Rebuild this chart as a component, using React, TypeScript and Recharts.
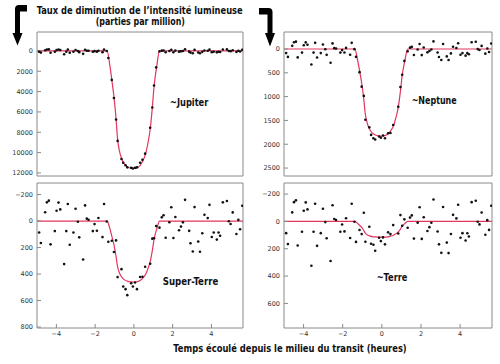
import { ComposedChart, Line, Scatter, XAxis, YAxis } from "recharts";

const timesBefore = [
  -4.89, -4.8, -4.58, -4.49, -4.39, -4.3, -4.08, -3.99, -3.89, -3.8, -3.6,
  -3.49, -3.41, -3.31, -3.12, -3.01, -2.89, -2.82, -2.62, -2.52, -2.43, -2.34,
  -2.12, -2.03, -1.91, -1.83, -1.62, -1.54, -1.4,
];
const timesTransit = [
  -1.32, -1.14, -1.03, -0.92, -0.84, -0.64, -0.55, -0.43, -0.34, -0.14, -0.05,
  0.06, 0.16, 0.32, 0.44, 0.58, 0.84, 0.95, 1.04, 1.15, 1.32,
];
const timesAfter = [
  1.44, 1.53, 1.64, 1.83, 1.93, 2.04, 2.14, 2.33, 2.43, 2.53, 2.64, 2.85, 2.92,
  3.04, 3.13, 3.32, 3.41, 3.53, 3.64, 3.81, 3.9, 4.02, 4.12, 4.28, 4.37, 4.45,
  4.59, 4.8, 4.9, 4.99, 5.1, 5.29, 5.39, 5.48, 5.59,
];

// out-of-transit scatter (ppm), the same in all four panels
const noiseBefore = [
  86, 166, -66, -141, -154, 176, 76, -78, -139, -88, 325, 76, -129, 179, 86,
  -93, 5, 123, 290, -118, -18, -10, 76, 23, 73, -23, 121, -129, 3,
];
const noiseAfter = [
  -28, -44, 126, 9, -104, 128, -30, 70, 42, 10, -160, 74, 168, 230, -105, 155,
  232, 92, -48, -22, -122, 120, 86, 140, 87, 111, -141, -151, 2, 22, -65, 98,
  -9, 62, -115,
];

// in-transit measurements (ppm)
const jupiterTransit = [
  700, 2850, 4630, 6740, 8850, 10630, 11000, 11250, 11450, 11500, 11560, 11500,
  11450, 11000, 10700, 10100, 7550, 5570, 3400, 1620, 50,
];
const neptuneTransit = [
  165, 486, 791, 985, 1485, 1645, 1804, 1874, 1901, 1839, 1864, 1818, 1874,
  1770, 1763, 1596, 1215, 800, 540, 250, 49,
];
const superTerreTransit = [
  156, 149, 234, 146, 423, 363, 494, 514, 559, 469, 494, 464, 514, 422, 420,
  345, 322, 133, 130, 38, 50,
];
const terreTransit = [
  150, 63, 93, -63, 149, 39, 163, 171, 215, 120, 144, 117, 168, 80, 93, 27, 88,
  -46, 32, -15, 46,
];

// model light curves (red line)
const modelTimes = [
  -5, -1.38, -1.25, -1.14, -1.02, -0.92, -0.85, -0.75, -0.63, -0.5, -0.35,
  -0.15, 0, 0.15, 0.3, 0.45, 0.6, 0.7, 0.84, 0.95, 1.04, 1.18, 1.32, 5.63,
];
const jupiterModel = [
  0, 0, 1300, 2850, 4650, 6700, 8500, 9800, 10600, 11100, 11380, 11530, 11550,
  11500, 11300, 10850, 10150, 9300, 7700, 5600, 3500, 1500, 0, 0,
];
const neptuneModel = [
  0, 0, 210, 450, 740, 1060, 1350, 1550, 1680, 1760, 1800, 1825, 1830, 1820,
  1790, 1720, 1610, 1470, 1220, 890, 555, 240, 0, 0,
];
const superTerreModel = [
  0, 0, 52, 114, 185, 267, 339, 390, 422, 442, 453, 459, 460, 458, 450, 432,
  404, 370, 307, 223, 139, 60, 0, 0,
];
const terreModel = [
  0, 0, 13, 28, 46, 67, 85, 98, 106, 111, 113, 115, 115, 115, 113, 108, 101, 93,
  77, 56, 35, 15, 0, 0,
];

const xTicks = [-4, -2, 0, 2, 4];
const jupiterTicks = [0, 2000, 4000, 6000, 8000, 10000, 12000];
const neptuneTicks = [0, 500, 1000, 1500, 2000, 2500];
const superTerreTicks = [-200, 0, 200, 400, 600, 800];
const terreTicks = [-200, 0, 200, 400, 600];

const X_DOMAIN: [number, number] = [-5, 5.63];
const RED = "#e2365e";
const FRAME = "#8a8a8a";
const BOLD_FONT =
  "'Liberation Sans Narrow', 'DejaVu Sans Condensed', 'Liberation Sans', sans-serif";

const toPoints = (transit: number[]) => {
  const t = [...timesBefore, ...timesTransit, ...timesAfter];
  const y = [...noiseBefore, ...transit, ...noiseAfter];
  return t.map((v, i) => ({ t: v, y: y[i] }));
};
const toCurve = (vals: number[]) =>
  modelTimes.map((t, i) => ({ t, y: vals[i] }));

const fmt = (v: number) => (v < 0 ? `\u2212${Math.abs(v)}` : `${v}`);

const Dot = (props: any) => (
  <circle cx={props.cx} cy={props.cy} r={1.3} fill="#111" />
);

const tickStyle = {
  fontSize: 6.5,
  fill: "#333",
  fontFamily: "'DejaVu Sans', sans-serif",
};

type PanelProps = {
  left: number;
  top: number;
  width: number;
  height: number;
  yWidth: number;
  xHeight: number;
  xLabels: boolean;
  yDomain: [number, number];
  yTicks: number[];
  transit: number[];
  model: number[];
};

const Panel = ({
  left,
  top,
  width,
  height,
  yWidth,
  xHeight,
  xLabels,
  yDomain,
  yTicks,
  transit,
  model,
}: PanelProps) => (
  <div style={{ position: "absolute", left, top }}>
    <ComposedChart
      width={width}
      height={height}
      margin={{ top: 0, right: 0, bottom: 0, left: 0 }}
    >
      <XAxis
        xAxisId="b"
        dataKey="t"
        type="number"
        domain={X_DOMAIN}
        allowDataOverflow
        ticks={xTicks}
        interval={0}
        height={xHeight}
        tickSize={-4}
        tickMargin={7}
        tick={xLabels ? tickStyle : false}
        tickFormatter={fmt}
        stroke={FRAME}
      />
      <XAxis
        xAxisId="top"
        orientation="top"
        type="number"
        domain={X_DOMAIN}
        allowDataOverflow
        ticks={xTicks}
        interval={0}
        height={1}
        tickSize={-4}
        tick={false}
        stroke={FRAME}
      />
      <YAxis
        yAxisId="l"
        dataKey="y"
        type="number"
        reversed
        domain={yDomain}
        allowDataOverflow
        ticks={yTicks}
        interval={0}
        width={yWidth}
        tickSize={-4}
        tickMargin={8}
        tick={tickStyle}
        tickFormatter={fmt}
        stroke={FRAME}
      />
      <YAxis
        yAxisId="r"
        orientation="right"
        type="number"
        reversed
        domain={yDomain}
        allowDataOverflow
        ticks={yTicks}
        interval={0}
        width={1}
        tickSize={-4}
        tick={false}
        stroke={FRAME}
      />
      <Line
        xAxisId="b"
        yAxisId="l"
        data={toCurve(model)}
        dataKey="y"
        type="monotone"
        stroke={RED}
        strokeWidth={1.2}
        dot={false}
        isAnimationActive={false}
      />
      <Scatter
        xAxisId="b"
        yAxisId="l"
        data={toPoints(transit)}
        dataKey="y"
        shape={Dot}
        isAnimationActive={false}
      />
    </ComposedChart>
  </div>
);

export default function App() {
  return (
    <div
      style={{
        position: "absolute",
        left: 0,
        top: 0,
        width: 500,
        height: 364,
        background: "#fff",
        overflow: "hidden",
      }}
    >
      <Panel
        left={0}
        top={31}
        width={244}
        height={149}
        yWidth={37}
        xHeight={4}
        xLabels={false}
        yDomain={[-1860, 12300]}
        yTicks={jupiterTicks}
        transit={jupiterTransit}
        model={jupiterModel}
      />
      <Panel
        left={250}
        top={31}
        width={243}
        height={149}
        yWidth={34}
        xHeight={4}
        xLabels={false}
        yDomain={[-357, 2667]}
        yTicks={neptuneTicks}
        transit={neptuneTransit}
        model={neptuneModel}
      />
      <Panel
        left={0}
        top={182}
        width={244}
        height={168}
        yWidth={37}
        xHeight={22}
        xLabels
        yDomain={[-287, 807]}
        yTicks={superTerreTicks}
        transit={superTerreTransit}
        model={superTerreModel}
      />
      <Panel
        left={250}
        top={182}
        width={243}
        height={168}
        yWidth={34}
        xHeight={22}
        xLabels
        yDomain={[-281, 780]}
        yTicks={terreTicks}
        transit={terreTransit}
        model={terreModel}
      />
      <svg
        width={500}
        height={364}
        style={{ position: "absolute", left: 0, top: 0, pointerEvents: "none" }}
      >
        <g fontFamily={BOLD_FONT} fontWeight="bold" fill="#111">
          <text x={36.7} y={13.5} fontSize={10.5} textLength={206} lengthAdjust="spacingAndGlyphs">
            Taux de diminution de l’intensité lumineuse
          </text>
          <text x={95.7} y={25.3} fontSize={10.5} textLength={89.3} lengthAdjust="spacingAndGlyphs">
            (parties par million)
          </text>
          <text x={170} y={106} fontSize={10.5} textLength={38.3} lengthAdjust="spacingAndGlyphs">
            ~Jupiter
          </text>
          <text x={411.7} y={103.7} fontSize={10.5} textLength={45} lengthAdjust="spacingAndGlyphs">
            ~Neptune
          </text>
          <text x={162.7} y={285} fontSize={10.5} textLength={55.6} lengthAdjust="spacingAndGlyphs">
            Super-Terre
          </text>
          <text x={376.7} y={281} fontSize={10.5} textLength={30.7} lengthAdjust="spacingAndGlyphs">
            ~Terre
          </text>
          <text x={173.3} y={351.7} fontSize={11} textLength={233.4} lengthAdjust="spacingAndGlyphs">
            Temps écoulé depuis le milieu du transit (heures)
          </text>
        </g>
        <path
          d="M27 5 L19 5 Q15 5 15 9 L15 33 L12.5 33 L17.5 45.5 L22.5 33 L20 33 L20 11.5 L27 11.5 Z"
          fill="#000"
        />
        <path
          d="M259 8 L268.5 8 Q272.5 8 272.5 12 L272.5 33 L275 33 L270 46.5 L265 33 L267.5 33 L267.5 14.5 L259 14.5 Z"
          fill="#000"
        />
      </svg>
    </div>
  );
}
